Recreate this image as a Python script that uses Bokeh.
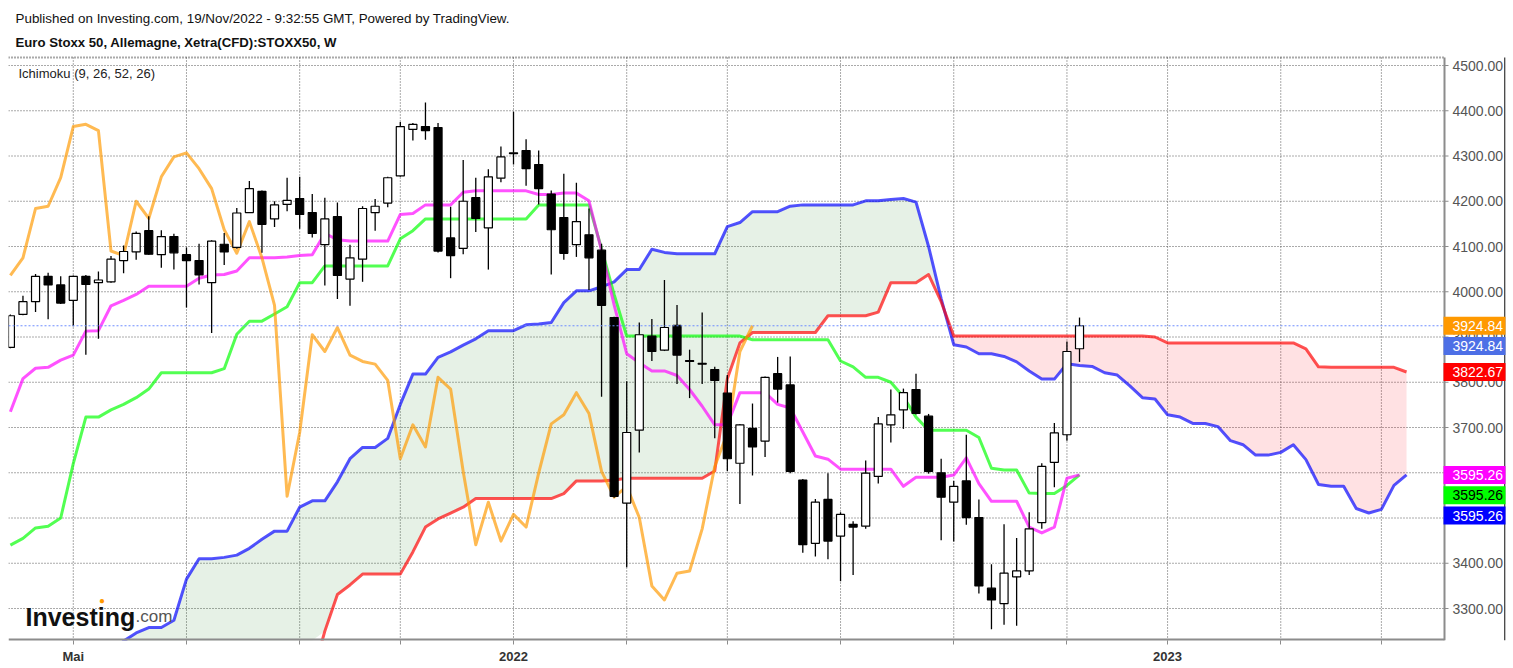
import numpy as np
from bokeh.plotting import figure
from bokeh.models import Range1d, FixedTicker, Label
from bokeh.core.properties import value
from bokeh.embed import file_html
from bokeh.resources import INLINE

# ---------------- data (weekly bars, first bar = week of 2021-03-29) ----------------
open_ = [3877, 3950, 3978, 4034, 4015, 3981, 4034, 4020, 4022, 4069,
         4088, 4135, 4082, 4122, 4082, 4069, 4020, 4105, 4098, 4175,
         4222, 4161, 4193, 4206, 4175, 4104, 4166, 4028, 4072, 4175,
         4196, 4256, 4359, 4365, 4363, 4119, 4096, 4208, 4141, 4251,
         4305, 4312, 4281, 4216, 4164, 4104, 4126, 4092, 3943, 3533,
         3694, 3902, 3871, 3926, 3848, 3842, 3828, 3776, 3621, 3698,
         3670, 3819, 3794, 3584, 3444, 3541, 3460, 3486, 3482, 3592,
         3706, 3739, 3784, 3725, 3600, 3535, 3582, 3501, 3345, 3311,
         3370, 3383, 3490, 3623, 3684, 3874]
high = [3950, 3991, 4039, 4042, 4034, 4036, 4037, 4045, 4079, 4102,
        4133, 4167, 4136, 4128, 4098, 4106, 4114, 4130, 4185, 4245,
        4224, 4200, 4252, 4254, 4216, 4208, 4197, 4104, 4189, 4205,
        4254, 4375, 4373, 4418, 4373, 4188, 4291, 4252, 4271, 4321,
        4398, 4337, 4312, 4224, 4261, 4241, 4184, 4106, 3945, 3802,
        3932, 3940, 4026, 3971, 3872, 3954, 3834, 3816, 3708, 3753,
        3813, 3856, 3857, 3586, 3542, 3599, 3513, 3493, 3627, 3723,
        3784, 3786, 3819, 3730, 3631, 3582, 3684, 3541, 3398, 3486,
        3456, 3513, 3621, 3710, 3890, 3943]
low = [3875, 3948, 3955, 3939, 3973, 3924, 3861, 3896, 4020, 4041,
       4071, 4082, 4053, 4049, 3965, 4016, 3909, 4059, 4095, 4174,
       4086, 4143, 4178, 4139, 4120, 4014, 3984, 3969, 4022, 4135,
       4187, 4254, 4334, 4336, 4087, 4030, 4083, 4132, 4049, 4242,
       4281, 4234, 4193, 4038, 4071, 4077, 4004, 3768, 3545, 3391,
       3645, 3847, 3869, 3796, 3765, 3796, 3676, 3604, 3531, 3594,
       3635, 3755, 3599, 3423, 3415, 3409, 3360, 3374, 3476, 3576,
       3667, 3697, 3729, 3598, 3451, 3448, 3485, 3333, 3254, 3264,
       3262, 3374, 3476, 3568, 3671, 3845]
close = [3947, 3978, 4034, 4015, 3975, 4034, 4016, 4026, 4072, 4089,
         4129, 4083, 4122, 4086, 4069, 4037, 4112, 4088, 4174, 4228,
         4149, 4192, 4202, 4171, 4129, 4161, 4036, 4075, 4184, 4189,
         4252, 4365, 4370, 4356, 4090, 4080, 4200, 4162, 4254, 4298,
         4307, 4272, 4228, 4137, 4085, 4155, 4075, 3970, 3548, 3689,
         3905, 3868, 3921, 3860, 3846, 3840, 3804, 3631, 3706, 3657,
         3811, 3785, 3603, 3441, 3535, 3449, 3508, 3480, 3599, 3708,
         3728, 3777, 3731, 3603, 3546, 3570, 3501, 3350, 3319, 3378,
         3383, 3476, 3614, 3688, 3868, 3924.84]

# Tenkan-sen (9) - magenta
tenkan = [3735, 3808, 3831, 3833, 3849, 3860, 3913, 3914, 3969, 3981,
          3994, 4012, 4012, 4012, 4012, 4030, 4037, 4038, 4046, 4075,
          4075, 4075, 4077, 4080, 4082, 4129, 4115, 4112, 4112, 4112,
          4112, 4171, 4173, 4192, 4192, 4192, 4220, 4223, 4223, 4223,
          4223, 4223, 4215, 4215, 4218, 4218, 4201, 4091, 3971, 3863,
          3843, 3825, 3825, 3815, 3784, 3747, 3706, 3706, 3777, 3777,
          3777, 3751, 3743, 3690, 3637, 3630, 3608, 3608, 3608, 3608,
          3608, 3570, 3590, 3590, 3590, 3595, 3633, 3576, 3537, 3537,
          3537, 3480, 3467, 3480, 3588, 3595.26]
# Kijun-sen (26) - green
kijun = [3440, 3455, 3478, 3482, 3500, 3620, 3723, 3723, 3739, 3751,
         3766, 3785, 3821, 3821, 3821, 3821, 3821, 3830, 3906, 3935,
         3935, 3951, 3967, 4020, 4020, 4057, 4057, 4057, 4057, 4057,
         4057, 4117, 4135, 4161, 4161, 4161, 4161, 4161, 4161, 4161,
         4161, 4161, 4192, 4192, 4192, 4192, 4192, 4095, 3994, 3902,
         3902, 3902, 3902, 3902, 3902, 3902, 3902, 3902, 3902, 3894,
         3894, 3894, 3894, 3894, 3894, 3894, 3847, 3834, 3811, 3811,
         3800, 3768, 3723, 3694, 3694, 3694, 3694, 3678, 3610, 3606,
         3606, 3555, 3554, 3554, 3572, 3595.26]
# Senkou span (red), plotted 26 bars ahead
span_red = [3060, 3060, 3075, 3075, 3090, 3090, 3090, 3100, 3100, 3110,
            3110, 3120, 3120, 3120, 3130, 3130, 3135, 3135, 3140, 3140,
            3145, 3145, 3148, 3150, 3150, 3250, 3331, 3352, 3376, 3376,
            3376, 3376, 3425, 3480, 3498, 3511, 3524, 3543, 3543, 3543,
            3543, 3543, 3543, 3543, 3554, 3582, 3582, 3582, 3584, 3588,
            3588, 3588, 3588, 3588, 3588, 3588, 3604, 3808, 3887, 3910,
            3910, 3910, 3910, 3910, 3910, 3947, 3947, 3947, 3947, 3955,
            4020, 4020, 4020, 4038, 3978, 3902, 3902, 3902, 3902, 3902,
            3902, 3902, 3902, 3902, 3902, 3902, 3902, 3902, 3902, 3902,
            3902, 3900, 3887, 3887, 3887, 3887, 3887, 3887, 3887, 3887,
            3887, 3887, 3887, 3874, 3834, 3833, 3833, 3833, 3833, 3833,
            3833, 3822.67]
# Senkou span (blue), plotted 26 bars ahead
span_blue = [3080, 3090, 3100, 3110, 3120, 3140, 3160, 3180, 3200, 3228,
             3246, 3258, 3258, 3274, 3365, 3410, 3410, 3413, 3418, 3433,
             3453, 3471, 3471, 3524, 3538, 3538, 3580, 3631, 3656, 3656,
             3676, 3751, 3818, 3818, 3855, 3867, 3882, 3896, 3914, 3914,
             3914, 3927, 3929, 3932, 3976, 4002, 4002, 4011, 4022, 4049,
             4049, 4094, 4087, 4084, 4084, 4084, 4084, 4144, 4153, 4177,
             4177, 4177, 4189, 4192, 4192, 4192, 4192, 4192, 4201, 4201,
             4204, 4206, 4198, 4100, 3985, 3883, 3878, 3863, 3863, 3857,
             3845, 3825, 3807, 3807, 3841, 3837, 3835, 3821, 3816, 3792,
             3766, 3763, 3728, 3723, 3709, 3709, 3702, 3671, 3662, 3639,
             3639, 3645, 3662, 3629, 3574, 3570, 3570, 3521, 3511, 3519,
             3572, 3595.26]
chikou_lag = 26

tick_bars = [5, 14, 23, 31, 40, 49, 57, 66, 75, 84, 92, 101, 109]
tick_labels = ["Mai", "", "", "", "2022", "", "", "", "", "", "2023", "", ""]
y_ticks = [3300, 3400, 3500, 3600, 3700, 3800, 3900, 4000, 4100, 4200, 4300, 4400, 4500]

last_price = 3924.84
badge_values = [3924.84, 3924.84, 3822.67, 3595.26, 3595.26, 3595.26]
badge_stack = [0, 1, 0, 0, 1, 2]
badge_colors = ["#ff9900", "#4d6fe6", "#ff0000", "#ff00ff", "#00ff00", "#0000ff"]
badge_text_colors = ["white", "white", "white", "white", "black", "white"]

# ---------------- geometry (frame covers chart + price column + header) ----------------
FONT = "Liberation Sans"
FW, FH = 1497, 640          # frame: page x 8..1505, y 0..640
PX_BAR = 12.578             # pixels per weekly bar
PX_PRICE = 0.4525           # pixels per index point
X_LEFT = -0.15
X_RIGHT = X_LEFT + FW / PX_BAR
AXIS_X = X_LEFT + 1436 / PX_BAR          # price axis line
Y_MIN = 3229.3
Y_MAX = Y_MIN + FH / PX_PRICE
PLOT_TOP = Y_MIN + 583 / PX_PRICE        # top of chart area

p = figure(frame_width=FW, frame_height=FH, output_backend="svg", toolbar_location=None,
           x_range=Range1d(X_LEFT, X_RIGHT), y_range=Range1d(Y_MIN, Y_MAX),
           y_axis_location=None, min_border_left=8, min_border_top=0,
           min_border_right=8, min_border_bottom=27)
p.title.visible = False
p.background_fill_color = "white"
p.border_fill_color = "white"
p.outline_line_color = None
p.xgrid.grid_line_color = None
p.ygrid.grid_line_color = None

# real x axis (ticks and labels)
xa = p.xaxis[0]
xa.ticker = FixedTicker(ticks=tick_bars)
xa.major_label_overrides = {t: s for t, s in zip(tick_bars, tick_labels)}
xa.major_label_text_font = FONT
xa.major_label_text_font_size = "13px"
xa.major_label_text_font_style = "bold"
xa.major_label_text_color = "#333333"
xa.major_label_standoff = 4
xa.axis_line_color = None
xa.major_tick_line_color = "#8c8c8c"
xa.major_tick_out = 4
xa.major_tick_in = 0
xa.minor_tick_line_color = None

GRID = dict(line_color="#555555", line_dash="1 2", line_width=1)
# grid lines (stop at the price axis)
p.segment(x0=tick_bars, y0=Y_MIN, x1=tick_bars, y1=PLOT_TOP, **GRID)
p.segment(x0=X_LEFT, y0=y_ticks, x1=AXIS_X, y1=y_ticks, **GRID)
p.segment(x0=X_LEFT, y0=PLOT_TOP, x1=AXIS_X, y1=PLOT_TOP, line_color="#555555",
          line_dash="1 2", line_width=2)

# ---------------- cloud ----------------
a = np.array(span_red, dtype=float)
b = np.array(span_blue, dtype=float)
xc = np.arange(len(a), dtype=float)
xs, ys_a, ys_b = [xc[0]], [a[0]], [b[0]]
for i in range(1, len(xc)):
    d0 = b[i - 1] - a[i - 1]
    d1 = b[i] - a[i]
    if d0 * d1 < 0:
        t = d0 / (d0 - d1)
        yc = a[i - 1] + t * (a[i] - a[i - 1])
        xs.append(xc[i - 1] + t); ys_a.append(yc); ys_b.append(yc)
    xs.append(xc[i]); ys_a.append(a[i]); ys_b.append(b[i])
xs = np.array(xs); ys_a = np.array(ys_a); ys_b = np.array(ys_b)
top = np.maximum(ys_a, ys_b)
p.varea(x=xs, y1=np.maximum(ys_a, Y_MIN), y2=np.maximum(top, Y_MIN),
        fill_color="#2e8b2e", fill_alpha=0.12)
p.varea(x=xs, y1=np.maximum(ys_b, Y_MIN), y2=np.maximum(top, Y_MIN),
        fill_color="#ff1a2a", fill_alpha=0.13)

# ---------------- ichimoku lines ----------------
LW, LA = 3, 0.68
idx = np.arange(len(close))
cl = np.array(close, dtype=float)
p.line(xc, b, line_color="#0000ff", line_alpha=LA, line_width=LW, line_join="round")
p.line(xc, a, line_color="#ff0000", line_alpha=LA, line_width=LW, line_join="round")
p.line(idx, kijun, line_color="#00ff00", line_alpha=LA, line_width=LW, line_join="round")
p.line(idx, tenkan, line_color="#ff00ff", line_alpha=LA, line_width=LW, line_join="round")
p.line(idx[:-chikou_lag], cl[chikou_lag:], line_color="#ff9900", line_alpha=LA,
       line_width=LW, line_join="round")

# ---------------- candles ----------------
op = np.array(open_, dtype=float)
hi = np.array(high, dtype=float)
lo = np.array(low, dtype=float)
up = cl >= op
p.segment(idx, hi, idx, lo, line_color="black", line_width=1.3)
p.vbar(x=idx[up], width=0.64, bottom=op[up], top=cl[up], fill_color="white",
       line_color="black", line_width=1.2)
p.vbar(x=idx[~up], width=0.64, bottom=cl[~up], top=op[~up], fill_color="black",
       line_color="black", line_width=1.2)

# last price line
p.segment(x0=X_LEFT, y0=last_price, x1=AXIS_X, y1=last_price, line_color="#6d8dff",
          line_dash="2 2", line_width=1)

# ---------------- price axis (right) ----------------
p.segment(x0=X_LEFT, y0=Y_MIN, x1=AXIS_X, y1=Y_MIN, line_color="#8c8c8c", line_width=4)
p.segment(x0=AXIS_X, y0=Y_MIN, x1=AXIS_X, y1=PLOT_TOP, line_color="#8c8c8c", line_width=2)
p.segment(x0=AXIS_X, y0=y_ticks, x1=AXIS_X + 4 / PX_BAR, y1=y_ticks,
          line_color="#8c8c8c", line_width=1)
p.text(x=AXIS_X + 8 / PX_BAR, y=y_ticks, text=[f"{v:.2f}" for v in y_ticks],
       text_font=value(FONT), text_font_size=value("14px"), text_color="#555555",
       text_baseline="middle", text_align="left")
p.segment(x0=X_RIGHT - 0.6 / PX_BAR, y0=Y_MIN, x1=X_RIGHT - 0.6 / PX_BAR, y1=PLOT_TOP,
          line_color="black", line_width=1.2)

# ---------------- texts ----------------
def lab(**kw):
    kw.setdefault("text_font", FONT)
    kw.setdefault("x_units", "screen")
    kw.setdefault("y_units", "screen")
    p.add_layout(Label(**kw))

lab(x=7, y=622, text_baseline="middle",
    text="Published on Investing.com, 19/Nov/2022 - 9:32:55 GMT, Powered by TradingView.",
    text_font_size="13.4px", text_color="#111111")
lab(x=7, y=598, text_baseline="middle",
    text="Euro Stoxx 50, Allemagne, Xetra(CFD):STOXX50, W",
    text_font_size="13.2px", text_font_style="bold", text_color="#111111")
lab(x=10, y=567, text_baseline="middle",
    text="Ichimoku (9, 26, 52, 26)", text_font_size="13px", text_color="#222222")

# logo
lab(x=17, y=24, text_baseline="alphabetic", text="Investing",
    text_font_size="25px", text_font_style="bold", text_color="#111111")
lab(x=127, y=24, text_baseline="alphabetic", text=".com",
    text_font_size="17px", text_color="#555555")
lab(x=93.5, y=40.5, text_baseline="middle", text_align="center", text="\u25cf",
    text_font_size="10px", text_color="#ff9900")

# price badges
for v, k, c, tc in zip(badge_values, badge_stack, badge_colors, badge_text_colors):
    lab(x=1435, y=v - k * 20.3 / PX_PRICE, y_units="data",
        text=f"{v:.2f}", text_align="left", text_baseline="middle",
        text_font_size="14px", text_color=tc, background_fill_color=c,
        padding=dict(top=4, right=3, bottom=4, left=9))

open("out.html", "w").write(file_html(p, INLINE))
